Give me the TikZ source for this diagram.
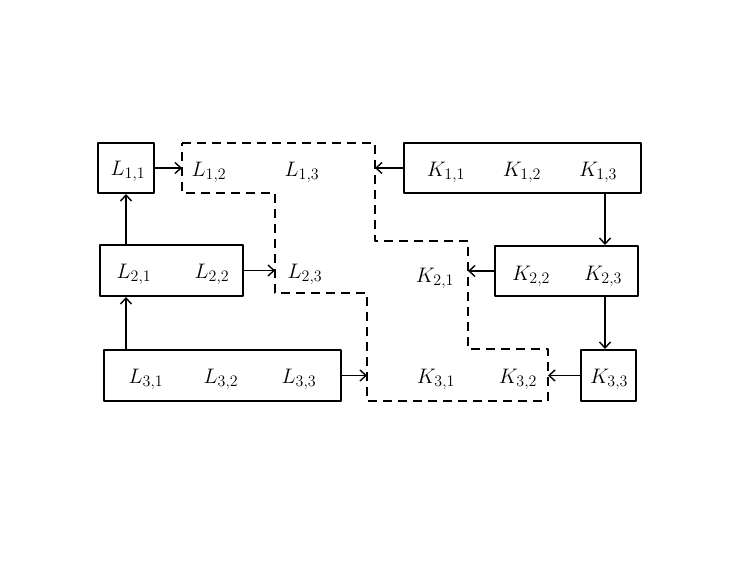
\documentclass[tikz,border=0pt]{standalone}
\usepackage{fix-cm}
\DeclareMathSizes{21}{21}{16}{12}
\usetikzlibrary{arrows.meta}
\begin{document}
\begin{tikzpicture}[x=1pt, y=-1pt, font=\fontsize{21}{25}\selectfont, line join=round,
			>={Straight Barb[length=6pt,width=11pt]},
			blk/.style={draw, line width=2pt, inner sep=0pt},
			arr/.style={->, line width=1.4pt},
			cut/.style={line width=2pt, dash pattern=on 9pt off 6pt}]
			\useasboundingbox (0,0) rectangle (747,561);
			% blocks
			\node[blk, minimum width=56pt, minimum height=50pt] (l1) at (126,168) {};
			\node[blk, minimum width=143pt, minimum height=51pt] (l2) at (171.5,270.5) {};
			\node[blk, minimum width=237pt, minimum height=51pt] (l3) at (222.5,375.5) {};
			\node[blk, minimum width=237pt, minimum height=50pt] (k1) at (522.5,168) {};
			\node[blk, minimum width=143pt, minimum height=50pt] (k2) at (566.5,271) {};
			\node[blk, minimum width=55pt, minimum height=51pt] (k3) at (608.5,375.5) {};
			% entries
			\node (L11) at (128,171) {$L_{1,1}$};
			\node (L12) at (209,172) {$L_{1,2}$};
			\node (L13) at (302,172) {$L_{1,3}$};
			\node (L21) at (134,274) {$L_{2,1}$};
			\node (L22) at (212,274) {$L_{2,2}$};
			\node (L23) at (305,274) {$L_{2,3}$};
			\node (L31) at (146,379) {$L_{3,1}$};
			\node (L32) at (221,379) {$L_{3,2}$};
			\node (L33) at (299,379) {$L_{3,3}$};
			\node (K11) at (446,172) {$K_{1,1}$};
			\node (K12) at (522,172) {$K_{1,2}$};
			\node (K13) at (598,172) {$K_{1,3}$};
			\node (K21) at (435,278) {$K_{2,1}$};
			\node (K22) at (531,276) {$K_{2,2}$};
			\node (K23) at (603,276) {$K_{2,3}$};
			\node (K31) at (436,379) {$K_{3,1}$};
			\node (K32) at (518,379) {$K_{3,2}$};
			\node (K33) at (609,379) {$K_{3,3}$};
			% dashed border
			\draw[cut] (182,143) -- (375,143) -- (375,241) -- (468,241) -- (468,349) -- (548,349)
				-- (548,401) -- (367,401) -- (367,293) -- (275,293) -- (275,193) -- (182,193) -- cycle;
			\coordinate (d1) at (182,168);
			\coordinate (d2) at (275,270);
			\coordinate (d3) at (367,375);
			\coordinate (d4) at (375,168);
			\coordinate (d5) at (468,270);
			\coordinate (d6) at (548,376);
			% arrows
			\draw[arr] (l1.east) -- (l1.east -| d1);
			\draw[arr] (l2.north -| l1) -- (l1.south);
			\draw[arr] (l3.north -| l1) -- (l2.south -| l1);
			\draw[arr] (l2.east) -- (l2.east -| d2);
			\draw[arr] (l3.east) -- (l3.east -| d3);
			\draw[arr] (k1.west) -- (k1.west -| d4);
			\draw[arr] (k1.south -| 605,0) -- (k2.north -| 605,0);
			\draw[arr] (k2.west) -- (k2.west -| d5);
			\draw[arr] (k2.south -| 605,0) -- (k3.north -| 605,0);
			\draw[arr] (k3.west) -- (k3.west -| d6);
		\end{tikzpicture}
\end{document}
